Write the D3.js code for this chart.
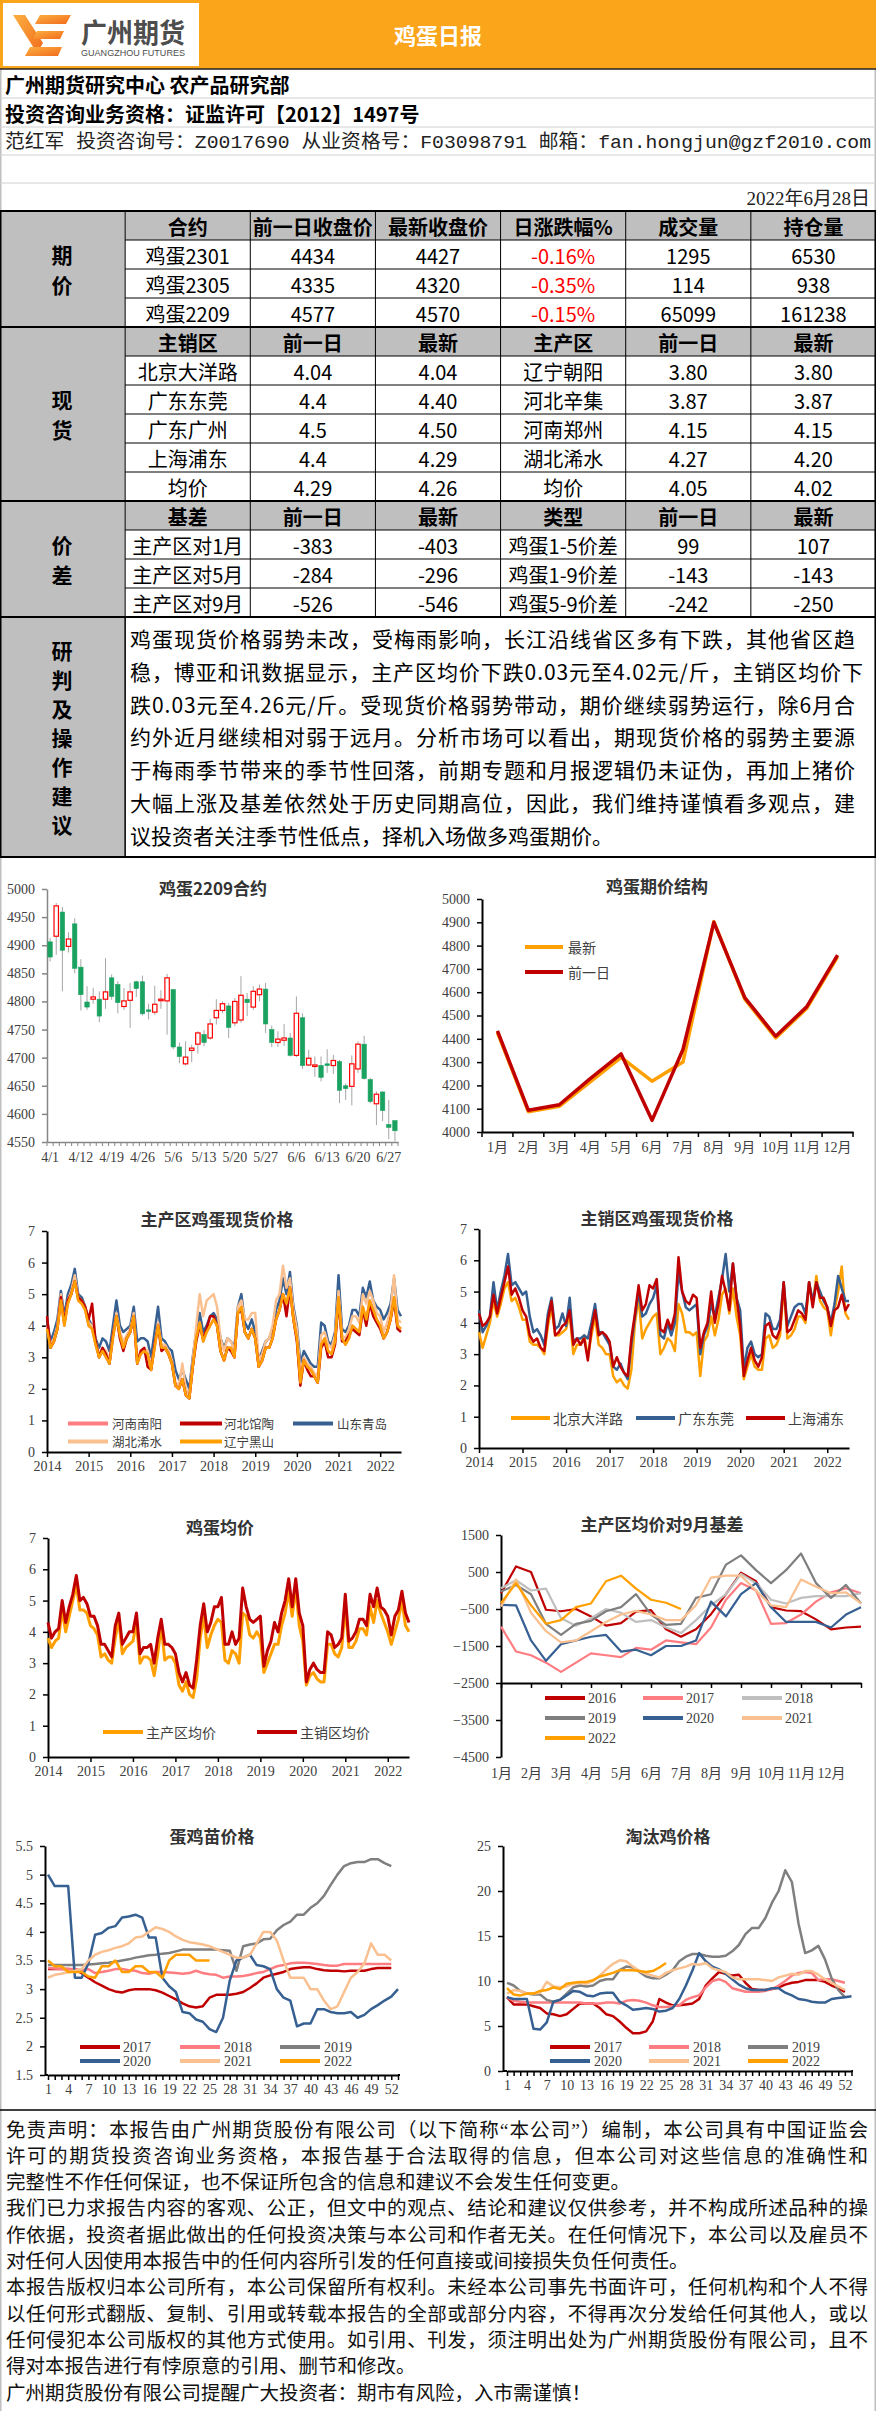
<!DOCTYPE html>
<html><head><meta charset="utf-8">
<script src="https://cdn.jsdelivr.net/npm/d3@7"></script>
<style>body{margin:0;background:#fff}svg{display:block}</style>
</head><body><svg id="c" width="876" height="2411"></svg>
<script>
// ================= DATA =================
const reportTitle = "鸡蛋日报";
const deptLine = "广州期货研究中心  农产品研究部";
const qualLine = "投资咨询业务资格：证监许可【2012】1497号";
const analystLine = "范红军 投资咨询号：Z0017690 从业资格号：F03098791 邮箱：fan.hongjun@gzf2010.com";
const reportDate = "2022年6月28日";

const futHeader = ["合约","前一日收盘价","最新收盘价","日涨跌幅%","成交量","持仓量"];
const futContracts = ["鸡蛋2301","鸡蛋2305","鸡蛋2209"];
const futPrev = ["4434","4335","4577"];
const futLast = ["4427","4320","4570"];
const futChg = ["-0.16%","-0.35%","-0.15%"];
const futVol = ["1295","114","65099"];
const futOI = ["6530","938","161238"];

const spotHeader = ["主销区","前一日","最新","主产区","前一日","最新"];
const saleRegions = ["北京大洋路","广东东莞","广东广州","上海浦东","均价"];
const salePrev = ["4.04","4.4","4.5","4.4","4.29"];
const saleLast = ["4.04","4.40","4.50","4.29","4.26"];
const prodRegions = ["辽宁朝阳","河北辛集","河南郑州","湖北浠水","均价"];
const prodPrev = ["3.80","3.87","4.15","4.27","4.05"];
const prodLast = ["3.80","3.87","4.15","4.20","4.02"];

const basisHeader = ["基差","前一日","最新","类型","前一日","最新"];
const basisNames = ["主产区对1月","主产区对5月","主产区对9月"];
const basisPrev = ["-383","-284","-526"];
const basisLast = ["-403","-296","-546"];
const spreadNames = ["鸡蛋1-5价差","鸡蛋1-9价差","鸡蛋5-9价差"];
const spreadPrev = ["99","-143","-242"];
const spreadLast = ["107","-143","-250"];

const sideLabels = ["期价","现货","价差"];
const adviceLabel = "研判及操作建议";
const adviceLines = [
 "鸡蛋现货价格弱势未改，受梅雨影响，长江沿线省区多有下跌，其他省区趋",
 "稳，博亚和讯数据显示，主产区均价下跌0.03元至4.02元/斤，主销区均价下",
 "跌0.03元至4.26元/斤。受现货价格弱势带动，期价继续弱势运行，除6月合",
 "约外近月继续相对弱于远月。分析市场可以看出，期现货价格的弱势主要源",
 "于梅雨季节带来的季节性回落，前期专题和月报逻辑仍未证伪，再加上猪价",
 "大幅上涨及基差依然处于历史同期高位，因此，我们维持谨慎看多观点，建",
 "议投资者关注季节性低点，择机入场做多鸡蛋期价。"
];

// Chart 1: 鸡蛋2209合约 candles
const candleDates = ["4/1","4/6","4/7","4/8","4/11","4/12","4/13","4/14","4/15","4/18","4/19","4/20","4/21","4/22","4/25","4/26","4/27","4/28","4/29","5/5","5/6","5/9","5/10","5/11","5/12","5/13","5/16","5/17","5/18","5/19","5/20","5/23","5/24","5/25","5/26","5/27","5/30","5/31","6/1","6/2","6/6","6/7","6/8","6/9","6/10","6/13","6/14","6/15","6/16","6/17","6/20","6/21","6/22","6/23","6/24","6/27","6/28"];
const candleOpen = [4906,4916,4959,4898,4938,4861,4799,4804,4804,4804,4842,4830,4791,4802,4835,4835,4785,4781,4802,4801,4821,4719,4689,4713,4724,4741,4735,4771,4784,4792,4762,4767,4804,4790,4812,4822,4750,4727,4731,4735,4704,4771,4687,4685,4686,4689,4686,4693,4650,4649,4680,4724,4661,4618,4639,4581,4588];
const candleClose = [4879,4970,4891,4911,4859,4812,4790,4808,4774,4817,4809,4798,4801,4817,4823,4778,4782,4795,4804,4842,4719,4702,4701,4717,4744,4727,4760,4784,4796,4754,4800,4811,4798,4818,4822,4760,4727,4733,4735,4704,4779,4686,4699,4687,4665,4686,4695,4642,4645,4689,4724,4663,4622,4635,4606,4576,4570];
const candleHigh = [4913,4975,4968,4923,4948,4875,4827,4824,4818,4877,4848,4836,4824,4833,4837,4846,4796,4828,4820,4849,4822,4727,4729,4723,4747,4749,4769,4804,4800,4797,4806,4845,4815,4827,4830,4833,4757,4747,4760,4744,4809,4779,4714,4702,4702,4715,4705,4696,4654,4704,4729,4739,4664,4640,4640,4625,4588];
const candleLow = [4871,4883,4818,4887,4850,4784,4785,4796,4763,4787,4803,4779,4785,4753,4808,4775,4768,4776,4787,4741,4715,4690,4686,4692,4707,4720,4732,4759,4779,4735,4756,4762,4774,4785,4800,4744,4719,4719,4721,4702,4701,4680,4685,4666,4658,4673,4671,4619,4625,4615,4673,4661,4619,4580,4587,4555,4551];
const candleYTicks = [4550,4600,4650,4700,4750,4800,4850,4900,4950,5000];

// Chart 2: 鸡蛋期价结构
const structMonths = ["1月","2月","3月","4月","5月","6月","7月","8月","9月","10月","11月","12月"];
const structLatest = [4427,4087,4110,4215,4320,4218,4300,4903,4570,4404,4530,4752];
const structPrev = [4434,4093,4117,4229,4335,4050,4354,4900,4577,4411,4537,4759];

// Chart 3: 主产区鸡蛋现货价格 (monthly, Jan 2014 - Jun 2022)
const prodHN = [4.0,3.3,3.5,3.9,4.8,4.0,4.7,5.0,5.4,4.8,4.7,4.5,
 4.0,3.9,3.4,3.0,3.2,3.0,2.8,3.6,4.3,3.7,3.3,3.6,
 3.8,4.3,2.8,3.1,3.2,3.1,2.6,3.3,4.0,3.3,3.3,3.1,
 2.8,2.1,2.0,2.3,1.8,1.7,2.7,3.6,4.1,3.5,3.8,4.0,
 4.2,4.0,3.2,2.9,3.3,3.3,3.0,4.4,4.6,3.8,3.6,3.9,
 3.6,2.7,2.9,3.3,3.3,3.6,4.2,4.5,5.0,4.7,5.2,4.2,
 3.6,2.2,2.9,2.7,2.6,2.4,2.2,3.4,3.6,3.2,3.1,3.5,
 4.9,3.6,3.4,3.6,4.0,3.9,3.8,4.6,4.2,4.8,4.5,4.2,
 4.0,3.6,3.8,4.2,4.9,4.0,3.9];
const prodHeB = [4.3,3.3,3.5,3.9,4.9,4.1,4.8,5.0,5.4,4.9,4.8,4.6,
 4.2,4.7,3.5,3.0,3.3,3.1,2.8,3.7,4.3,3.6,3.2,3.6,
 3.8,4.3,2.8,3.2,3.3,2.7,2.6,3.4,4.0,3.2,3.3,3.1,
 2.8,2.1,2.0,2.3,1.8,1.7,2.7,3.5,4.0,3.6,3.9,4.3,
 4.3,4.0,3.2,2.9,3.3,3.2,3.0,4.4,4.5,3.8,3.6,3.9,
 3.6,2.7,2.9,3.3,3.3,3.6,4.2,4.5,5.0,4.3,5.2,4.2,
 3.5,2.1,2.9,2.6,2.4,2.4,2.2,3.3,3.5,3.0,3.0,3.4,
 4.8,3.5,3.5,3.7,3.9,3.8,3.7,4.5,4.0,4.7,4.3,4.1,
 3.9,3.6,3.8,4.2,4.8,3.9,3.8];
const prodSD = [4.2,3.5,3.8,4.2,5.1,4.3,5.0,5.3,5.8,5.0,4.9,4.6,
 4.2,4.0,3.6,3.3,3.6,3.5,3.2,4.0,4.8,4.0,3.8,3.9,
 4.0,4.6,3.5,3.6,3.6,3.5,3.0,3.8,4.6,3.6,3.5,3.3,
 3.2,2.6,2.3,2.6,2.3,2.0,3.0,3.8,4.4,3.8,4.0,4.3,
 4.4,4.2,3.6,3.3,3.6,3.5,3.3,4.6,5.0,4.1,3.9,4.2,
 3.8,2.9,3.2,3.5,3.6,3.9,4.5,4.8,5.5,5.0,5.7,4.6,
 4.0,2.8,3.2,3.0,2.8,2.7,2.7,4.1,4.0,3.5,3.4,3.8,
 5.6,3.9,3.8,4.0,4.5,4.5,4.3,5.2,4.9,5.4,4.8,4.6,
 4.5,4.2,4.4,4.7,5.5,4.5,4.3];
const prodHB = [4.0,3.4,3.6,4.0,5.0,4.1,4.8,5.1,5.6,4.9,4.8,4.6,
 4.1,4.0,3.5,3.1,3.3,3.2,2.9,3.7,4.4,3.8,3.5,3.7,
 3.9,4.4,2.9,3.2,3.3,3.2,2.7,3.4,4.1,3.4,3.4,3.2,
 2.9,2.2,2.1,2.8,2.0,1.8,2.9,4.0,5.0,4.3,4.8,4.9,
 5.0,4.6,3.6,3.2,3.6,3.5,3.2,4.6,4.8,4.2,4.2,4.4,
 4.4,2.9,3.1,3.5,3.6,4.0,4.8,5.0,5.9,5.2,5.5,4.5,
 3.9,2.5,3.0,2.8,2.7,2.5,2.4,3.7,3.8,3.4,3.3,3.7,
 5.1,3.7,3.6,3.9,4.3,4.3,4.1,5.0,4.7,5.1,4.8,4.4,
 4.3,3.8,4.1,4.5,5.6,4.2,4.1];
const prodLN = [3.9,3.3,3.5,3.9,4.8,4.0,4.7,5.0,5.4,4.8,4.7,4.5,
 4.0,3.9,3.4,3.0,3.2,3.0,2.8,3.6,4.3,3.7,3.3,3.6,
 3.8,4.3,2.8,3.1,3.2,3.1,2.6,3.3,4.0,3.3,3.3,3.1,
 2.8,2.1,2.0,2.3,1.8,1.7,2.7,3.6,4.1,3.5,3.8,4.0,
 4.2,4.0,3.2,2.9,3.3,3.3,3.0,4.4,4.6,3.8,3.6,3.9,
 3.6,2.7,2.9,3.3,3.3,3.6,4.2,4.5,5.0,4.7,5.2,4.2,
 3.6,2.2,2.9,2.7,2.6,2.4,2.2,3.4,3.6,3.2,3.1,3.5,
 4.9,3.6,3.4,3.6,4.0,3.9,3.8,4.6,4.2,4.8,4.5,4.2,
 4.0,3.6,3.8,4.2,4.9,4.0,3.9];

// Chart 4: 主销区鸡蛋现货价格
const saleBJ = [3.7,3.2,3.6,4.0,4.7,4.2,4.6,5.1,5.3,4.7,4.8,4.5,
 4.1,4.1,3.4,3.3,3.3,3.2,3.0,3.9,4.5,3.6,3.6,3.7,
 3.8,4.3,3.0,3.3,3.3,3.6,2.9,3.6,4.2,3.3,3.2,3.0,
 3.0,2.3,2.1,2.2,2.0,1.9,2.5,4.0,4.8,3.5,3.8,4.0,
 4.2,4.3,3.0,3.2,3.5,3.4,3.1,4.6,4.3,3.7,3.7,3.6,
 3.7,2.3,3.4,3.6,4.2,3.6,4.1,4.9,5.1,4.3,5.1,4.2,
 3.6,2.2,2.6,3.0,2.6,2.5,2.5,3.5,3.6,3.2,3.3,3.6,
 5.2,3.5,3.6,3.8,4.2,4.2,4.0,5.3,4.6,5.5,4.7,4.5,
 4.4,3.6,4.4,5.0,5.8,4.3,4.1];
const saleGD = [4.4,3.7,3.9,4.2,5.3,4.4,5.0,5.5,6.2,5.2,5.3,5.1,
 4.9,5.0,4.2,3.7,3.8,3.6,3.3,4.3,4.8,3.8,3.9,4.3,
 3.9,4.8,3.4,3.5,3.5,3.6,3.5,4.0,4.6,3.7,3.7,3.5,
 3.3,2.6,2.5,2.7,2.4,2.2,3.3,4.2,5.0,4.2,4.3,4.6,
 4.8,5.2,3.6,3.5,4.0,3.6,4.0,5.6,5.0,4.5,4.4,4.5,
 4.6,3.0,3.6,3.9,4.6,4.2,4.8,5.4,6.2,5.0,5.9,4.8,
 4.4,2.5,3.2,3.4,3.0,2.9,3.0,4.3,4.2,3.8,3.8,4.1,
 5.3,3.9,4.2,4.5,4.6,4.6,4.3,5.3,4.7,5.3,5.0,4.7,
 4.5,4.0,4.6,5.5,5.1,4.7,4.7];
const saleSH = [4.3,3.9,4.0,4.2,4.9,4.3,4.8,5.3,5.8,4.9,5.1,4.8,
 4.4,4.2,3.6,3.4,3.5,3.2,3.1,4.1,4.7,3.6,3.7,3.9,
 4.0,4.4,3.3,3.5,3.3,3.5,2.8,3.8,4.4,3.6,3.7,3.6,
 3.4,2.6,2.9,2.6,2.4,2.3,3.5,4.3,5.2,4.4,4.6,5.2,
 5.1,5.4,3.8,3.7,4.1,3.8,4.3,6.1,5.0,4.7,4.6,4.9,
 4.8,3.2,3.7,4.0,5.0,4.0,4.6,5.5,5.0,4.4,5.9,4.8,
 3.9,2.3,2.8,3.2,2.8,2.6,2.9,3.9,4.0,3.6,3.5,3.8,
 5.3,3.7,3.8,4.1,4.4,4.3,4.1,5.3,4.5,5.3,4.8,4.8,
 4.5,3.9,4.4,4.5,4.9,4.4,4.6];

// Chart 5: 鸡蛋均价
const avgProd = [3.8,3.5,3.7,3.8,4.7,4.0,4.5,5.0,5.5,4.7,4.7,4.6,
 4.2,4.1,3.9,3.2,3.3,3.1,3.0,3.8,4.4,3.3,3.5,3.6,
 3.7,4.3,3.0,3.2,3.2,3.1,2.6,3.3,4.2,3.1,3.2,3.2,
 3.0,2.3,2.1,2.4,2.0,1.9,2.5,3.8,4.5,3.5,3.9,4.2,
 4.4,4.3,3.1,3.0,3.4,3.3,3.0,4.6,4.5,3.9,3.8,4.0,
 3.8,2.7,3.0,3.3,3.6,3.6,4.2,4.6,5.3,4.5,5.4,4.2,
 3.7,2.3,2.6,2.7,2.5,2.4,2.4,3.6,3.6,3.3,3.2,3.5,
 4.8,3.5,3.5,3.7,4.1,4.1,3.9,4.8,4.3,5.0,4.6,4.3,
 4.0,3.6,4.0,4.4,5.0,4.2,4.0];
const avgSale = [4.3,3.8,4.0,4.1,5.0,4.3,4.8,5.2,5.8,5.0,5.1,4.9,
 4.5,4.5,4.2,3.6,3.6,3.4,3.2,4.2,4.6,3.6,3.8,4.0,
 4.0,4.6,3.3,3.5,3.5,3.6,3.0,3.8,4.4,3.6,3.6,3.5,
 3.3,2.7,2.4,2.7,2.3,2.2,3.1,4.2,4.9,4.0,4.3,4.8,
 4.8,5.1,3.6,3.6,4.0,3.6,3.8,5.4,4.8,4.4,4.3,4.4,
 4.5,2.9,3.4,3.7,4.3,4.0,4.6,5.0,5.7,4.8,5.7,4.6,
 4.2,2.4,2.8,3.0,2.8,2.7,2.7,4.0,3.9,3.5,3.6,3.8,
 5.2,3.7,3.8,4.0,4.4,4.4,4.2,5.2,4.8,5.4,4.8,4.7,
 4.5,3.9,4.5,4.7,5.3,4.6,4.3];
const yearTicks = [2014,2015,2016,2017,2018,2019,2020,2021,2022];

// Chart 6: 主产区均价对9月基差 (half-month points)
const basis2016 = [-75,650,500,-520,-560,-500,-700,-950,-880,-570,-530,-1050,-1250,-1050,-640,-100,480,250,-450,-540,-560,-780,-1050,-1000,-975];
const basis2017 = [-975,-1650,-1750,-1950,-2200,-1950,-1700,-1750,-1800,-1550,-1600,-1350,-1400,-1450,-1000,-250,200,0,-900,-880,-650,-300,-50,60,-75];
const basis2018 = [60,280,0,50,-750,-950,-750,-500,-600,-850,-800,-1000,-1150,-800,-400,-100,450,200,-250,-350,-200,-150,-150,-150,-75];
const basis2019 = [-30,150,-100,-900,-1200,-900,-820,-560,-450,-100,-650,-930,-900,-200,-100,700,950,550,200,550,1000,200,-200,150,-350];
const basis2020 = [-390,-400,-1350,-1900,-1450,-1350,-1250,-1200,-1650,-1600,-1750,-1500,-1500,-1350,-300,-700,-100,200,-450,-850,-850,-850,-1000,-650,-450];
const basis2021 = [-435,300,-600,-1100,-1400,-1350,-1100,-850,-650,-550,-650,-800,-800,-400,350,400,400,0,-400,-450,300,100,-75,-50,-345];
const basis2022 = [-345,200,-400,-900,-800,-450,-350,250,400,50,-250,-330,-500];
const basisYTicks = [-4500,-3500,-2500,-1500,-500,500,1500];

// Chart 7: 蛋鸡苗价格 (weekly)
const chick2017 = [3.35,3.35,3.35,3.35,3.34,3.28,3.2,3.12,3.06,3.0,2.96,2.94,2.98,3.0,3.0,3.0,2.98,2.94,2.88,2.82,2.75,2.7,2.68,2.7,2.85,2.9,2.9,2.9,2.92,2.95,3.02,3.1,3.2,3.24,3.27,3.3,3.35,3.37,3.38,3.38,3.35,3.33,3.32,3.32,3.31,3.32,3.32,3.32,3.35,3.37,3.37,3.37];
const chick2018 = [3.37,3.36,3.35,3.35,3.35,3.33,3.35,3.28,3.3,3.32,3.35,3.35,3.33,3.32,3.28,3.27,3.3,3.3,3.29,3.28,3.27,3.28,3.32,3.28,3.26,3.25,3.2,3.22,3.22,3.23,3.25,3.28,3.3,3.35,3.4,3.42,3.45,3.46,3.46,3.45,3.44,3.42,3.41,3.41,3.44,3.44,3.44,3.44,3.44,3.44,3.44,3.44];
const chick2019 = [3.42,3.42,3.42,3.42,3.42,3.42,3.43,3.44,3.45,3.46,3.48,3.5,3.52,3.55,3.57,3.59,3.6,3.62,3.63,3.66,3.69,3.69,3.69,3.69,3.69,3.69,3.68,3.67,3.32,3.75,3.78,3.8,3.87,3.88,4.03,4.12,4.18,4.3,4.3,4.42,4.5,4.63,4.82,5.0,5.15,5.2,5.22,5.22,5.27,5.27,5.2,5.15];
const chick2020 = [5.0,4.8,4.8,4.8,3.2,3.2,3.45,3.95,3.98,4.07,4.1,4.25,4.27,4.3,4.25,3.9,3.9,3.2,3.05,2.95,2.6,2.58,2.47,2.43,2.3,2.25,2.5,3.15,3.5,3.55,3.6,3.42,3.4,3.35,3.0,2.85,2.8,2.35,2.4,2.4,2.65,2.65,2.6,2.58,2.58,2.6,2.5,2.55,2.65,2.72,2.8,2.87,3.0];
const chick2021 = [3.2,3.25,3.27,3.3,3.32,3.35,3.5,3.6,3.65,3.68,3.72,3.75,3.8,3.9,3.92,4.0,4.08,4.05,4.0,3.92,3.86,3.82,3.8,3.78,3.75,3.7,3.65,3.6,3.55,3.55,3.6,3.8,4.0,4.0,3.85,3.5,3.2,3.2,3.2,3.0,3.0,2.8,2.65,2.7,2.95,3.2,3.3,3.45,3.8,3.6,3.6,3.5];
const chick2022 = [3.5,3.4,3.4,3.3,3.3,3.3,3.22,3.2,3.4,3.4,3.5,3.3,3.3,3.4,3.4,3.3,3.3,3.2,3.5,3.6,3.6,3.6,3.5,3.5,3.5];

// Chart 8: 淘汰鸡价格 (weekly)
const cull2017 = [8.2,7.4,7.4,7.4,7.2,7.0,6.4,6.3,6.1,6.3,6.9,7.5,7.5,7.5,7.0,6.3,6.1,5.5,4.8,4.2,4.2,4.4,5.5,8.0,7.6,7.3,7.3,7.4,7.5,8.0,9.5,10.3,11.0,10.8,10.6,10.7,9.8,9.1,9.0,9.0,9.1,9.3,9.6,9.8,9.9,10.1,10.1,10.1,9.9,9.5,9.2,8.8];
const cull2018 = [8.2,7.8,7.7,7.6,7.6,7.6,7.6,7.6,7.6,7.6,7.6,7.6,7.5,7.5,7.5,7.6,7.6,7.5,7.8,7.9,7.8,7.6,7.3,7.1,7.1,7.2,7.3,7.9,8.2,8.4,9.3,10.0,10.2,9.9,9.2,9.0,8.8,8.8,8.8,8.9,9.1,9.5,10.0,10.6,10.9,11.0,10.9,10.1,10.2,10.2,10.0,9.8];
const cull2019 = [9.8,9.5,8.9,8.6,8.5,8.5,7.9,7.7,7.9,8.6,9.3,9.5,9.4,9.5,10.0,10.2,10.2,11.2,11.6,11.5,11.0,10.5,10.3,10.3,10.7,11.2,12.2,12.7,13.0,13.0,12.8,12.7,12.7,12.8,13.3,14.0,15.2,15.9,15.9,17.0,18.7,20.0,22.3,21.0,16.4,13.1,13.4,13.9,12.4,10.3,9.0,8.2];
const cull2020 = [8.2,8.0,8.0,8.0,4.7,4.6,5.4,7.7,7.9,8.4,8.9,8.8,8.4,8.3,8.6,8.7,8.7,7.7,7.3,6.8,6.9,7.0,6.9,6.6,6.7,7.0,8.0,9.5,11.2,13.1,12.2,11.6,11.3,10.8,10.2,9.6,9.2,9.0,9.0,9.0,9.2,9.2,8.7,8.4,8.0,7.9,7.7,7.6,7.6,8.0,8.1,8.2,8.3];
const cull2021 = [8.6,9.0,8.9,8.6,8.6,8.7,9.9,9.4,9.3,9.4,9.7,9.8,9.7,10.0,10.6,11.3,11.9,12.3,12.2,11.6,11.1,10.8,10.6,10.4,10.9,11.2,11.4,11.6,11.9,11.8,12.0,11.4,11.2,11.0,10.4,10.2,10.2,10.2,10.2,10.1,10.0,10.4,10.6,10.8,10.7,11.1,11.1,10.7,10.2,9.8,9.4,9.0];
const cull2022 = [9.2,8.5,8.4,8.6,8.6,8.9,9.0,9.3,9.1,9.7,9.8,9.9,9.9,10.1,10.5,10.7,10.9,11.2,11.2,11.2,11.1,11.0,11.1,11.5,12.0];

const footerLines = [
 "免责声明：本报告由广州期货股份有限公司（以下简称“本公司”）编制，本公司具有中国证监会",
 "许可的期货投资咨询业务资格，本报告基于合法取得的信息，但本公司对这些信息的准确性和",
 "完整性不作任何保证，也不保证所包含的信息和建议不会发生任何变更。",
 "我们已力求报告内容的客观、公正，但文中的观点、结论和建议仅供参考，并不构成所述品种的操",
 "作依据，投资者据此做出的任何投资决策与本公司和作者无关。在任何情况下，本公司以及雇员不",
 "对任何人因使用本报告中的任何内容所引发的任何直接或间接损失负任何责任。",
 "本报告版权归本公司所有，本公司保留所有权利。未经本公司事先书面许可，任何机构和个人不得",
 "以任何形式翻版、复制、引用或转载本报告的全部或部分内容，不得再次分发给任何其他人，或以",
 "任何侵犯本公司版权的其他方式使用。如引用、刊发，须注明出处为广州期货股份有限公司，且不",
 "得对本报告进行有悖原意的引用、删节和修改。",
 "广州期货股份有限公司提醒广大投资者：期市有风险，入市需谨慎！"
];
const footerJustified = [true,true,false,true,true,false,true,true,true,false,false];

// ================= DRAWING =================
const W = 876;
const svg = d3.select("#c");
const SANS = "'Noto Sans CJK SC','Noto Sans',sans-serif";
const SERIF = "'Liberation Serif','Noto Sans CJK SC',serif";
const MONO = "'Liberation Mono','Noto Sans CJK SC',monospace";
const TICKC = "#404040";
const C = {dred:"#C00000",pink:"#FF7C80",lgray:"#BFBFBF",gray:"#7F7F7F",blue:"#376092",peach:"#FAC090",orange:"#FFA000",green:"#1AA260",table:"#BFBFBF"};

function T(x,y,s,o={}){
  const t = svg.append("text").attr("x",x).attr("y",y).text(s)
    .attr("font-family",o.ff||SANS).attr("font-size",o.fs||20)
    .attr("fill",o.fill||"#000").attr("text-anchor",o.anchor||"start")
    .attr("dominant-baseline","central");
  if(o.fw) t.attr("font-weight",o.fw);
  if(o.len) t.attr("textLength",o.len).attr("lengthAdjust",o.adj||"spacing");
  return t;
}
function L(x1,y1,x2,y2,color,w){
  return svg.append("line").attr("x1",x1).attr("y1",y1).attr("x2",x2).attr("y2",y2)
    .attr("stroke",color).attr("stroke-width",w);
}

// ---- header ----
svg.append("rect").attr("x",0).attr("y",0).attr("width",W).attr("height",69).attr("fill","#FAA51A");
svg.append("rect").attr("x",3).attr("y",3).attr("width",196).attr("height",63).attr("fill","#fff");
const defs = svg.append("defs");
const grad = defs.append("linearGradient").attr("id","lg").attr("x1","0").attr("y1","0").attr("x2","1").attr("y2","1");
grad.append("stop").attr("offset","0").attr("stop-color","#FBB040");
grad.append("stop").attr("offset","1").attr("stop-color","#F26B1D");
const logoPolys = [
  [[13,15],[25,15],[43,43],[37,53]],
  [[40,15],[71,15],[66,24],[35,24]],
  [[37,31],[64,31],[60,39],[33,39]],
  [[30,47],[62,47],[58,56],[25,56]]
];
logoPolys.forEach(p=>svg.append("polygon").attr("points",p.map(q=>q.join(",")).join(" ")).attr("fill","url(#lg)"));
T(81,31,"广州期货",{fs:27,fw:"bold",fill:"#4D4D4D",len:104,adj:"spacingAndGlyphs"});
T(81,53,"GUANGZHOU FUTURES",{fs:9,fill:"#4D4D4D",len:104,adj:"spacingAndGlyphs",ff:"'Liberation Sans',sans-serif"});
T(438,34,reportTitle,{fs:22,fw:"bold",fill:"#fff",anchor:"middle"});

// page border
L(0.75,69,0.75,2411,"#BFBFBF",1.5);
L(875.25,69,875.25,2411,"#BFBFBF",1.5);
// info rows
[98,127,155,183].forEach(y=>L(0,y,W,y,"#D0D0D0",1));
L(0,69,W,69,"#222",1.5);
T(5,84,deptLine,{fs:20,fw:"bold"});
T(5,113,qualLine,{fs:20,fw:"bold"});
T(5,143,analystLine,{fs:19,ff:MONO,fill:"#222",len:866,adj:"spacingAndGlyphs"});
T(870,198,reportDate,{fs:19,ff:SERIF,anchor:"end",fill:"#222"});

// ---- table ----
const colX = d3.range(8).map(i=>i*W/7);
const rowTop = 211, rowH = 29;
const rowY = r => rowTop + r*rowH;
const tableBottom = rowY(14), adviceBottom = 857;
svg.append("rect").attr("x",0).attr("y",rowTop).attr("width",colX[1]).attr("height",adviceBottom-rowTop).attr("fill",C.table);
[0,4,10].forEach(r=>svg.append("rect").attr("x",colX[1]).attr("y",rowY(r)).attr("width",W-colX[1]).attr("height",rowH).attr("fill",C.table));

function cell(c,r,s,o={}){
  T((colX[c]+colX[c+1])/2, rowY(r)+rowH/2+1, s, Object.assign({fs:20,anchor:"middle"},o));
}
futHeader.forEach((h,i)=>cell(i+1,0,h,{fw:"bold"}));
futContracts.forEach((n,i)=>{
  cell(1,i+1,n); cell(2,i+1,futPrev[i]); cell(3,i+1,futLast[i]);
  cell(4,i+1,futChg[i],{fill:"#FF0000"}); cell(5,i+1,futVol[i]); cell(6,i+1,futOI[i]);
});
spotHeader.forEach((h,i)=>cell(i+1,4,h,{fw:"bold"}));
saleRegions.forEach((n,i)=>{
  cell(1,i+5,n); cell(2,i+5,salePrev[i]); cell(3,i+5,saleLast[i]);
  cell(4,i+5,prodRegions[i]); cell(5,i+5,prodPrev[i]); cell(6,i+5,prodLast[i]);
});
basisHeader.forEach((h,i)=>cell(i+1,10,h,{fw:"bold"}));
basisNames.forEach((n,i)=>{
  cell(1,i+11,n); cell(2,i+11,basisPrev[i]); cell(3,i+11,basisLast[i]);
  cell(4,i+11,spreadNames[i]); cell(5,i+11,spreadPrev[i]); cell(6,i+11,spreadLast[i]);
});
// side labels
[[0,4],[4,10],[10,14]].forEach((rg,k)=>{
  const cy = (rowY(rg[0])+rowY(rg[1]))/2;
  const chars = sideLabels[k].split("");
  chars.forEach((ch,j)=>T(62, cy + (j-(chars.length-1)/2)*30, ch, {fs:21,fw:"bold",anchor:"middle"}));
});
// grid lines
for(let r=1;r<14;r++){ if(r!==4 && r!==10) L(colX[1],rowY(r),W,rowY(r),"#000",1); }
for(let c=1;c<7;c++) L(colX[c],rowTop,colX[c],tableBottom,"#000",1);
L(colX[1],tableBottom,colX[1],adviceBottom,"#000",1.5);
[rowTop,rowY(4),rowY(10),tableBottom,adviceBottom].forEach(y=>L(0,y,W,y,"#000",2));
L(0.75,rowTop,0.75,adviceBottom,"#000",1.5);
L(875.25,rowTop,875.25,adviceBottom,"#000",1.5);
// advice
const advChars = adviceLabel.split("");
advChars.forEach((ch,j)=>T(62,(tableBottom+adviceBottom)/2+(j-3)*29,ch,{fs:21,fw:"bold",anchor:"middle"}));
adviceLines.forEach((s,i)=>{
  const o = {fs:21};
  if(i<adviceLines.length-1) o.len = (i===1?733:725);
  T(130, 638 + i*32.8, s, o);
});

// ---- chart helpers ----
function styleAxis(g,color,w){
  g.attr("font-family",SERIF).attr("font-size",14);
  g.select(".domain").attr("stroke",color).attr("stroke-width",w);
  g.selectAll(".tick line").attr("stroke",color).attr("stroke-width",Math.min(w,1.5));
  g.selectAll(".tick text").attr("fill",TICKC);
  return g;
}
function title(x,y,s){ T(x,y,s,{fs:17,fw:"bold",fill:"#333",anchor:"middle"}); }
function legend(items){
  items.forEach(it=>{
    L(it.x1,it.y,it.x2,it.y,it.color,it.w||4);
    T(it.tx,it.y,it.label,{fs:it.fs||14,ff:it.ff||SANS,fill:TICKC});
  });
}
function drawLine(data,xf,yscale,color,w){
  svg.append("path").datum(data)
    .attr("d",d3.line().x((d,i)=>xf(i)).y(d=>yscale(d)))
    .attr("fill","none").attr("stroke",color).attr("stroke-width",w).attr("stroke-linejoin","round");
}
function yAxisLeft(scale,x,ticks,fmt,color,w){
  return styleAxis(svg.append("g").attr("transform",`translate(${x},0)`)
    .call(d3.axisLeft(scale).tickValues(ticks).tickSize(5).tickSizeOuter(0).tickPadding(7).tickFormat(fmt)),color,w);
}

// ---- Chart 1: candles ----
title(213,887,"鸡蛋2209合约");
const c1x = d3.scaleBand().domain(candleDates).range([47,398]);
const c1y = d3.scaleLinear().domain([4550,5000]).range([1142,889]);
yAxisLeft(c1y,47,candleYTicks,d3.format("d"),"#868686",1.5);
styleAxis(svg.append("g").attr("transform","translate(0,1142)")
  .call(d3.axisBottom(c1x).tickValues(candleDates.filter((d,i)=>i%5===0)).tickSize(0).tickSizeOuter(0).tickPadding(10)),"#868686",1.5);
candleDates.forEach(d=>L(c1x(d),1142,c1x(d),1146,"#868686",1));
L(398,1142,398,1146,"#868686",1);
candleDates.forEach((d,i)=>{
  const cx = c1x(d)+c1x.bandwidth()/2;
  const up = candleClose[i] >= candleOpen[i];
  L(cx,c1y(candleHigh[i]),cx,c1y(candleLow[i]),"#A6A6A6",1);
  const top = c1y(Math.max(candleOpen[i],candleClose[i]));
  const bot = c1y(Math.min(candleOpen[i],candleClose[i]));
  svg.append("rect").attr("x",cx-2.2).attr("y",top).attr("width",4.4).attr("height",Math.max(1.5,bot-top))
    .attr("fill",up?"#fff":C.green).attr("stroke",up?"#FF0000":C.green).attr("stroke-width",up?1.2:0.6);
});

// ---- Chart 2: structure ----
title(657,885,"鸡蛋期价结构");
const c2x = d3.scaleBand().domain(structMonths).range([482,853]);
const c2y = d3.scaleLinear().domain([4000,5000]).range([1132,899]);
yAxisLeft(c2y,482,d3.range(4000,5001,100),d3.format("d"),"#000",2);
styleAxis(svg.append("g").attr("transform","translate(0,1132)")
  .call(d3.axisBottom(c2x).tickSize(0).tickSizeOuter(0).tickPadding(10)),"#000",2);
structMonths.forEach(m=>L(c2x(m),1132,c2x(m),1137,"#000",1.5));
L(853,1132,853,1137,"#000",1.5);
const c2cx = i => c2x(structMonths[i]) + c2x.bandwidth()/2;
drawLine(structLatest,c2cx,c2y,C.orange,3.5);
drawLine(structPrev,c2cx,c2y,C.dred,3.5);
legend([
  {x1:525,x2:563,y:947,tx:568,label:"最新",color:C.orange},
  {x1:525,x2:563,y:972,tx:568,label:"前一日",color:C.dred}
]);

// ---- Year charts (3,4,5) ----
function yearChart(o){
  const x = d3.scaleLinear().domain([2014,2022.5]).range([o.x0,o.x1]);
  const y = d3.scaleLinear().domain([0,7]).range([o.yb,o.yt]);
  yAxisLeft(y,o.x0,d3.range(0,8),d3.format("d"),"#000",2);
  styleAxis(svg.append("g").attr("transform",`translate(0,${o.yb})`)
    .call(d3.axisBottom(x).tickValues(yearTicks).tickSize(5).tickSizeOuter(0).tickPadding(4).tickFormat(d3.format("d"))),"#000",2);
  o.series.forEach(s=>drawLine(s.vals,i=>x(2014+i/12),y,s.color,s.w||2.5));
}
title(217,1218,"主产区鸡蛋现货价格");
yearChart({x0:47,x1:401,yt:1231,yb:1452,series:[
  {vals:prodSD,color:C.blue},{vals:prodHB,color:C.peach},{vals:prodHN,color:C.pink},
  {vals:prodHeB,color:C.dred},{vals:prodLN,color:C.orange}]});
legend([
  {x1:68,x2:108,y:1423.5,tx:112,label:"河南南阳",color:C.pink,fs:12.5},
  {x1:180,x2:222,y:1423.5,tx:224,label:"河北馆陶",color:C.dred,fs:12.5},
  {x1:293,x2:333,y:1423.5,tx:337,label:"山东青岛",color:C.blue,fs:12.5},
  {x1:68,x2:108,y:1441.5,tx:112,label:"湖北浠水",color:C.peach,fs:12.5},
  {x1:180,x2:222,y:1441.5,tx:224,label:"辽宁黑山",color:C.orange,fs:12.5}
]);

title(657,1217,"主销区鸡蛋现货价格");
yearChart({x0:479,x1:849,yt:1229,yb:1448,series:[
  {vals:saleBJ,color:C.orange},{vals:saleGD,color:C.blue},{vals:saleSH,color:C.dred}]});
legend([
  {x1:511,x2:550,y:1418,tx:553,label:"北京大洋路",color:C.orange},
  {x1:636,x2:675,y:1418,tx:678,label:"广东东莞",color:C.blue},
  {x1:746,x2:785,y:1418,tx:788,label:"上海浦东",color:C.dred}
]);

title(220,1526,"鸡蛋均价");
yearChart({x0:48,x1:409,yt:1538,yb:1757,series:[
  {vals:avgProd,color:C.orange,w:3},{vals:avgSale,color:C.dred,w:3}]});
legend([
  {x1:103,x2:143,y:1732,tx:146,label:"主产区均价",color:C.orange},
  {x1:257,x2:297,y:1732,tx:300,label:"主销区均价",color:C.dred}
]);

// ---- Chart 6: basis ----
title(662,1523,"主产区均价对9月基差");
const c6x = d3.scaleLinear().domain([0,1]).range([501,861]);
const c6y = d3.scaleLinear().domain([-4500,1500]).range([1757,1535]);
yAxisLeft(c6y,501,basisYTicks,d3.format("d"),"#000",2);
const monthTicks = d3.range(0,13).map(m=>m/12);
styleAxis(svg.append("g").attr("transform",`translate(0,${c6y(-2500)})`)
  .call(d3.axisBottom(c6x).tickValues(monthTicks).tickSize(5).tickSizeOuter(0).tickPadding(80)
    .tickFormat(d=>{const m=Math.round(d*12); return m<12 ? (m+1)+"月" : "";})),"#000",2);
[[basis2016,C.dred],[basis2017,C.pink],[basis2018,C.lgray],[basis2019,C.gray],[basis2020,C.blue],[basis2021,C.peach],[basis2022,C.orange]]
  .forEach(s=>drawLine(s[0],i=>c6x(i/24),c6y,s[1],2.2));
legend([
  {x1:545,x2:585,y:1698,tx:588,label:"2016",color:C.dred,ff:SERIF},
  {x1:643,x2:683,y:1698,tx:686,label:"2017",color:C.pink,ff:SERIF},
  {x1:742,x2:782,y:1698,tx:785,label:"2018",color:C.lgray,ff:SERIF},
  {x1:545,x2:585,y:1718,tx:588,label:"2019",color:C.gray,ff:SERIF},
  {x1:643,x2:683,y:1718,tx:686,label:"2020",color:C.blue,ff:SERIF},
  {x1:742,x2:782,y:1718,tx:785,label:"2021",color:C.peach,ff:SERIF},
  {x1:545,x2:585,y:1738,tx:588,label:"2022",color:C.orange,ff:SERIF}
]);

// ---- Weekly charts (7,8) ----
function weekChart(o){
  const x = d3.scaleLinear().domain([1,53]).range([o.x0,o.x1]);
  const y = d3.scaleLinear().domain(o.ydom).range([o.yb,o.yt]);
  yAxisLeft(y,o.ax,o.yticks,o.yfmt,"#000",2);
  styleAxis(svg.append("g").attr("transform",`translate(0,${o.yb})`)
    .call(d3.axisBottom(x).tickValues(d3.range(1,54)).tickSize(5).tickSizeOuter(0).tickPadding(4)
      .tickFormat(d=>(d-1)%3===0 && d<=52 ? String(d) : "")),"#000",2);
  L(o.ax,o.yb,o.x0,o.yb,"#000",2); L(o.x1,o.yb,o.axEnd,o.yb,"#000",2);
  o.series.forEach(s=>drawLine(s[0],i=>x(i+1),y,s[1],2.5));
}
title(212,1835,"蛋鸡苗价格");
weekChart({x0:48,x1:398,ax:45,axEnd:400,yt:1846,yb:2075,ydom:[1.5,5.5],
  yticks:[1.5,2,2.5,3,3.5,4,4.5,5,5.5],yfmt:d=>String(d),
  series:[[chick2017,C.dred],[chick2018,C.pink],[chick2019,C.gray],[chick2020,C.blue],[chick2021,C.peach],[chick2022,C.orange]]});
legend([
  {x1:80,x2:120,y:2047,tx:123,label:"2017",color:C.dred,ff:SERIF},
  {x1:180,x2:220,y:2047,tx:224,label:"2018",color:C.pink,ff:SERIF},
  {x1:280,x2:320,y:2047,tx:324,label:"2019",color:C.gray,ff:SERIF},
  {x1:80,x2:120,y:2061,tx:123,label:"2020",color:C.blue,ff:SERIF},
  {x1:180,x2:220,y:2061,tx:224,label:"2021",color:C.peach,ff:SERIF},
  {x1:280,x2:320,y:2061,tx:324,label:"2022",color:C.orange,ff:SERIF}
]);

title(668,1835,"淘汰鸡价格");
weekChart({x0:507,x1:851.5,ax:503,axEnd:853,yt:1846,yb:2071,ydom:[0,25],
  yticks:[0,5,10,15,20,25],yfmt:d3.format("d"),
  series:[[cull2017,C.dred],[cull2018,C.pink],[cull2019,C.gray],[cull2020,C.blue],[cull2021,C.peach],[cull2022,C.orange]]});
legend([
  {x1:550,x2:590,y:2047,tx:594,label:"2017",color:C.dred,ff:SERIF},
  {x1:649,x2:689,y:2047,tx:693,label:"2018",color:C.pink,ff:SERIF},
  {x1:748,x2:788,y:2047,tx:792,label:"2019",color:C.gray,ff:SERIF},
  {x1:550,x2:590,y:2061,tx:594,label:"2020",color:C.blue,ff:SERIF},
  {x1:649,x2:689,y:2061,tx:693,label:"2021",color:C.peach,ff:SERIF},
  {x1:748,x2:788,y:2061,tx:792,label:"2022",color:C.orange,ff:SERIF}
]);

// ---- footer ----
L(0,2110,W,2110,"#000",1.5);
footerLines.forEach((s,i)=>{
  const o = {fs:19.5,ff:SERIF,fill:"#111"};
  if(footerJustified[i]) o.len = 862;
  T(6,2130+i*26.3,s,o);
});
</script></body></html>
